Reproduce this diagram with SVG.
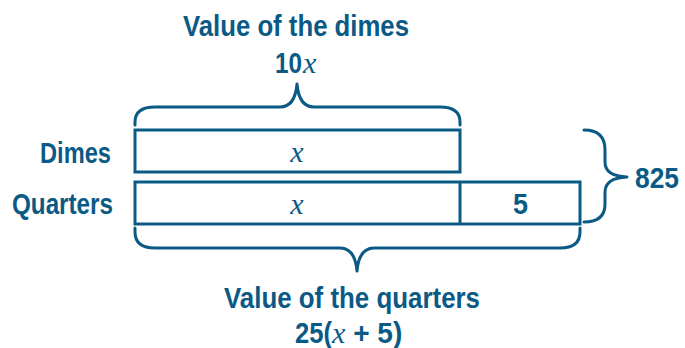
<svg xmlns="http://www.w3.org/2000/svg" width="685" height="348" viewBox="0 0 685 348">
<style>
.t{font-family:"Liberation Sans",Arial,sans-serif;font-weight:bold;font-size:30px;fill:#0b5a85;}
.v{font-family:"Liberation Serif","Times New Roman",serif;font-style:italic;font-weight:normal;font-size:30px;fill:#0b5a85;}
.box{fill:#fff;stroke:#0b5a85;stroke-width:3;}
.br{fill:none;stroke:#0b5a85;stroke-width:3;stroke-linecap:round;stroke-linejoin:round;}
</style>
<rect width="685" height="348" fill="#fff"/>
<g id="dimes">
<text class="t" x="40" y="163" textLength="71" lengthAdjust="spacingAndGlyphs">Dimes</text>
<rect class="box" x="135" y="130" width="325" height="42"/>
<text class="v" x="297" y="162" text-anchor="middle">x</text>
</g>
<g id="quarters">
<text class="t" x="12" y="214" textLength="101" lengthAdjust="spacingAndGlyphs">Quarters</text>
<rect class="box" x="135" y="182" width="445" height="42"/>
<line class="box" x1="460" y1="182" x2="460" y2="224"/>
<text class="v" x="297" y="214" text-anchor="middle">x</text>
<text class="t" x="513" y="214" textLength="15" lengthAdjust="spacingAndGlyphs">5</text>
</g>
<g id="connectors">
<path class="br" d="M135,125 V122 Q135,107 155,107 H280 Q295,107 297,84 Q299,107 314,107 H440 Q460,107 460,122 V125"/>
<path class="br" d="M135,228 V232 Q135,248 155,248 H340 Q355,248 357,271 Q359,248 374,248 H560 Q580,248 580,232 V228"/>
<path class="br" d="M584,130 Q605,130 605,150 V162 Q605,176 627,177 Q605,178 605,192 V204 Q605,222 584,222"/>
</g>
<g id="dimes-value">
<text class="t" x="183" y="36" textLength="226" lengthAdjust="spacingAndGlyphs">Value of the dimes</text>
<text x="275" y="73" class="t"><tspan textLength="27" lengthAdjust="spacingAndGlyphs">10</tspan><tspan class="v" dx="1">x</tspan></text>
</g>
<g id="total">
<text class="t" x="635" y="188" textLength="44" lengthAdjust="spacingAndGlyphs">825</text>
</g>
<g id="quarters-value">
<text class="t" x="224" y="308" textLength="256" lengthAdjust="spacingAndGlyphs">Value of the quarters</text>
<text x="295" y="343" class="t"><tspan textLength="37" lengthAdjust="spacingAndGlyphs">25(</tspan><tspan class="v">x</tspan><tspan textLength="57" lengthAdjust="spacingAndGlyphs"> + 5)</tspan></text>
</g>
</svg>
